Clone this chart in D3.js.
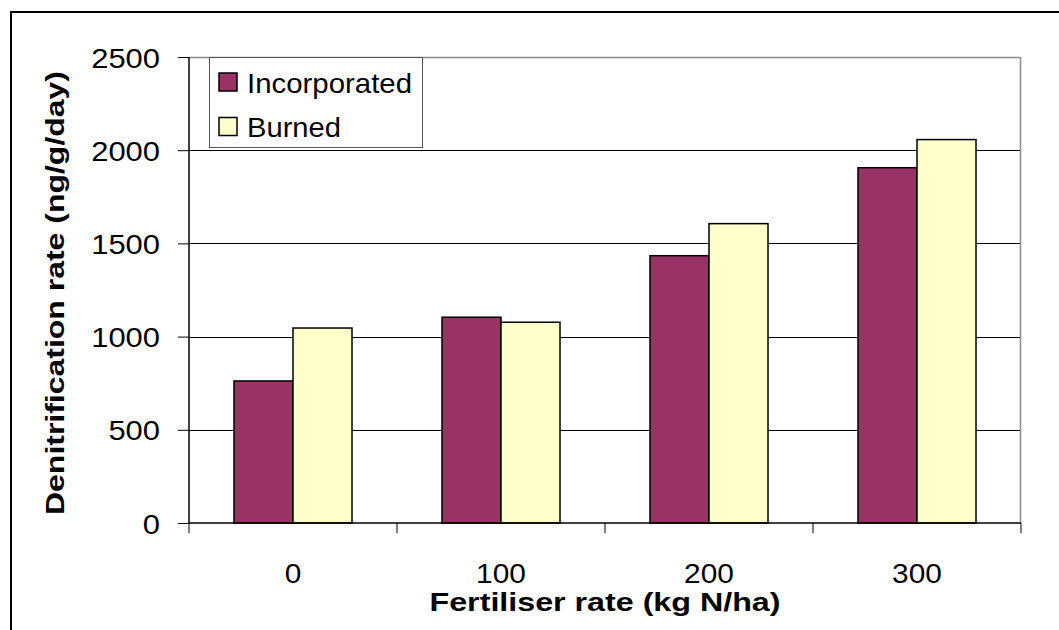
<!DOCTYPE html>
<html>
<head>
<meta charset="utf-8">
<script src="https://cdn.jsdelivr.net/npm/d3@7"></script>
<style>
  body { margin: 0; background: #fff; }
  svg { display: block; font-family: Arial, "Liberation Sans", sans-serif; }
</style>
</head>
<body>
<div id="chart"></div>
<script>
var categories = ["0", "100", "200", "300"];
var seriesNames = ["Incorporated", "Burned"];
var incorporated = [762, 1104, 1434, 1906];
var burned = [1046, 1077, 1606, 2057];
var yTicks = [0, 500, 1000, 1500, 2000, 2500];
var colors = ["#993366", "#FFFFCC"];

var width = 1059, height = 630;
var margin = {left: 189, right: 38, top: 57, bottom: 107};
var w = width - margin.left - margin.right,
    h = height - margin.top - margin.bottom;

var svg = d3.select("#chart").append("svg")
    .attr("width", width)
    .attr("height", height);

// outer frame (runs off the right and bottom edge)
svg.append("rect")
    .attr("x", 11).attr("y", 12)
    .attr("width", 1060).attr("height", 630)
    .attr("fill", "none")
    .attr("stroke", "#000")
    .attr("stroke-width", 2);

var g = svg.append("g")
    .attr("transform", "translate(" + margin.left + "," + margin.top + ")");

var x0 = d3.scaleBand()
    .domain(categories)
    .range([0, w])
    .paddingInner(90 / 208)
    .paddingOuter(45 / 208);

var x1 = d3.scaleBand()
    .domain(seriesNames)
    .range([0, x0.bandwidth()]);

var y = d3.scaleLinear()
    .domain([0, 2500])
    .range([h, 0]);

// gridlines
g.selectAll(".grid")
    .data(yTicks.filter(function (d) { return d > 0 && d < 2500; }))
    .enter().append("line")
    .attr("x1", 0).attr("x2", w)
    .attr("y1", function (d) { return Math.round(y(d)) + 0.5; })
    .attr("y2", function (d) { return Math.round(y(d)) + 0.5; })
    .attr("stroke", "#000")
    .attr("stroke-width", 1);

// plot area border top + right (grey)
g.append("path")
    .attr("d", "M0," + (y(2500) + 0.5) + "H" + (w - 0.5) + "V" + h)
    .attr("fill", "none")
    .attr("stroke", "#8c8c8c")
    .attr("stroke-width", 1.5);

// bars
var rows = categories.map(function (c, i) {
    return {cat: c, values: [incorporated[i], burned[i]]};
});

var groups = g.selectAll(".group")
    .data(rows)
    .enter().append("g")
    .attr("transform", function (d) { return "translate(" + x0(d.cat) + ",0)"; });

groups.selectAll("rect")
    .data(function (d) {
        return d.values.map(function (v, j) { return {name: seriesNames[j], value: v, j: j}; });
    })
    .enter().append("rect")
    .attr("x", function (d) { return x1(d.name); })
    .attr("width", x1.bandwidth())
    .attr("y", function (d) { return y(d.value); })
    .attr("height", function (d) { return h - y(d.value); })
    .attr("fill", function (d) { return colors[d.j]; })
    .attr("stroke", "#000")
    .attr("stroke-width", 1.5);

// y axis
var yAxis = g.append("g")
    .call(d3.axisLeft(y).tickValues(yTicks).tickFormat(d3.format("d"))
        .tickSize(11).tickPadding(18));
yAxis.select(".domain").attr("stroke", "#000").attr("stroke-width", 1.5)
    .attr("d", "M0,0V" + h);
yAxis.selectAll(".tick line").attr("stroke", "#000");
yAxis.selectAll(".tick text")
    .attr("font-size", 28)
    .attr("font-family", "Arial, 'Liberation Sans', sans-serif")
    .attr("fill", "#000")
    .attr("dy", "0.36em")
    .attr("textLength", function (d) { return String(d).length * 17.2; })
    .attr("lengthAdjust", "spacingAndGlyphs");

// x axis: ticks sit on category boundaries
var step = x0.step();
var xAxis = g.append("g").attr("transform", "translate(0," + h + ")");
xAxis.append("line")
    .attr("x1", 0).attr("x2", w)
    .attr("stroke", "#000").attr("stroke-width", 1.5);
xAxis.selectAll(".xtick")
    .data(d3.range(categories.length + 1))
    .enter().append("line")
    .attr("x1", function (i) { return i * step; })
    .attr("x2", function (i) { return i * step; })
    .attr("y1", 0).attr("y2", 10)
    .attr("stroke", "#000");
xAxis.selectAll(".xlabel")
    .data(categories)
    .enter().append("text")
    .attr("x", function (d) { return x0(d) + x0.bandwidth() / 2; })
    .attr("y", 60)
    .attr("text-anchor", "middle")
    .attr("font-size", 27)
    .attr("textLength", function (d) { return d.length * 16.6; })
    .attr("lengthAdjust", "spacingAndGlyphs")
    .text(function (d) { return d; });

// axis titles
svg.append("text")
    .attr("x", margin.left + w / 2)
    .attr("y", 611)
    .attr("text-anchor", "middle")
    .attr("font-size", 25)
    .attr("font-weight", "bold")
    .attr("textLength", 351)
    .attr("lengthAdjust", "spacingAndGlyphs")
    .text("Fertiliser rate (kg N/ha)");

svg.append("text")
    .attr("transform", "translate(64,293) rotate(-90)")
    .attr("text-anchor", "middle")
    .attr("font-size", 26)
    .attr("font-weight", "bold")
    .attr("textLength", 444)
    .attr("lengthAdjust", "spacingAndGlyphs")
    .text("Denitrification rate (ng/g/day)");

// legend
var legend = svg.append("g").attr("transform", "translate(209,57)");
legend.append("rect")
    .attr("x", 0.5).attr("y", 0.5)
    .attr("width", 213).attr("height", 90)
    .attr("fill", "#fff")
    .attr("stroke", "#555")
    .attr("stroke-width", 1);

var items = legend.selectAll(".item")
    .data(seriesNames)
    .enter().append("g")
    .attr("transform", function (d, i) { return "translate(10," + (16 + i * 44.5) + ")"; });
items.append("rect")
    .attr("width", 18).attr("height", 18)
    .attr("fill", function (d, i) { return colors[i]; })
    .attr("stroke", "#000")
    .attr("stroke-width", 1.5);
items.append("text")
    .attr("x", 28)
    .attr("y", 19.5)
    .attr("font-size", 28)
    .attr("textLength", function (d, i) { return i === 0 ? 165 : 94; })
    .attr("lengthAdjust", "spacingAndGlyphs")
    .text(function (d) { return d; });
</script>
</body>
</html>
